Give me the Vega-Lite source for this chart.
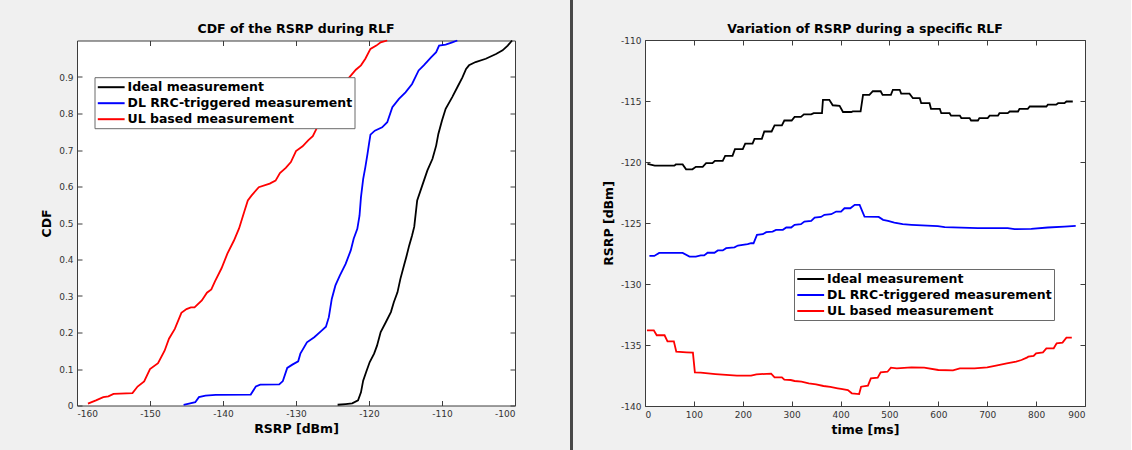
{
"$schema": "https://vega.github.io/schema/vega-lite/v6.json",
"background": "#f0f0f0",
"padding": {"left": 40, "top": 0, "right": 45, "bottom": 0},
"config": {
  "font": "DejaVu Sans",
  "view": {"stroke": "#3c3c3c", "strokeWidth": 1, "fill": "white"},
  "axis": {"grid": true, "gridColor": "#dfdfdf", "domain": false, "tickColor": "#3c3c3c", "tickSize": -5, "labelFont": "DejaVu Sans", "labelFontSize": 9, "labelColor": "#333333", "labelPadding": 9, "titleFont": "DejaVu Sans", "titleFontSize": 12.5, "titleFontWeight": "bold", "titleColor": "black", "minExtent": 0},
  "title": {"font": "DejaVu Sans", "fontSize": 12.5, "fontWeight": "bold", "color": "black", "offset": 1, "anchor": "middle"},
  "legend": {"orient": "none", "title": null, "symbolType": "M-1,0H3", "symbolSize": 180, "symbolStrokeWidth": 2, "labelFont": "DejaVu Sans", "labelFontWeight": "bold", "labelFontSize": 12.5, "labelColor": "black", "labelLimit": 0, "fillColor": "white", "strokeColor": "#6a6a6a", "padding": 2, "rowPadding": 1, "labelOffset": 15}
},
"resolve": {"scale": {"color": "independent"}, "legend": {"color": "independent"}},
"spacing": 53,
"center": true,
"hconcat": [
{
  "width": 438, "height": 365,
  "title": "CDF of the RSRP during RLF",
  "data": {"values": [
    {"series":"UL based measurement","rsrp":-158.5,"cdf":0.005},
    {"series":"UL based measurement","rsrp":-157.4,"cdf":0.014},
    {"series":"UL based measurement","rsrp":-156.4,"cdf":0.023},
    {"series":"UL based measurement","rsrp":-155.7,"cdf":0.025},
    {"series":"UL based measurement","rsrp":-155.0,"cdf":0.032},
    {"series":"UL based measurement","rsrp":-152.4,"cdf":0.034},
    {"series":"UL based measurement","rsrp":-151.7,"cdf":0.052},
    {"series":"UL based measurement","rsrp":-150.8,"cdf":0.066},
    {"series":"UL based measurement","rsrp":-150.0,"cdf":0.1},
    {"series":"UL based measurement","rsrp":-148.9,"cdf":0.116},
    {"series":"UL based measurement","rsrp":-148.0,"cdf":0.15},
    {"series":"UL based measurement","rsrp":-147.4,"cdf":0.183},
    {"series":"UL based measurement","rsrp":-146.6,"cdf":0.21},
    {"series":"UL based measurement","rsrp":-145.7,"cdf":0.254},
    {"series":"UL based measurement","rsrp":-145.0,"cdf":0.264},
    {"series":"UL based measurement","rsrp":-144.4,"cdf":0.269},
    {"series":"UL based measurement","rsrp":-143.9,"cdf":0.269},
    {"series":"UL based measurement","rsrp":-142.9,"cdf":0.288},
    {"series":"UL based measurement","rsrp":-142.2,"cdf":0.309},
    {"series":"UL based measurement","rsrp":-141.6,"cdf":0.318},
    {"series":"UL based measurement","rsrp":-141.1,"cdf":0.34},
    {"series":"UL based measurement","rsrp":-140.2,"cdf":0.376},
    {"series":"UL based measurement","rsrp":-139.4,"cdf":0.416},
    {"series":"UL based measurement","rsrp":-138.5,"cdf":0.452},
    {"series":"UL based measurement","rsrp":-137.8,"cdf":0.485},
    {"series":"UL based measurement","rsrp":-137.1,"cdf":0.53},
    {"series":"UL based measurement","rsrp":-136.6,"cdf":0.562},
    {"series":"UL based measurement","rsrp":-136.1,"cdf":0.575},
    {"series":"UL based measurement","rsrp":-135.1,"cdf":0.598},
    {"series":"UL based measurement","rsrp":-133.6,"cdf":0.608},
    {"series":"UL based measurement","rsrp":-132.8,"cdf":0.616},
    {"series":"UL based measurement","rsrp":-132.2,"cdf":0.637},
    {"series":"UL based measurement","rsrp":-131.4,"cdf":0.651},
    {"series":"UL based measurement","rsrp":-130.7,"cdf":0.667},
    {"series":"UL based measurement","rsrp":-130.0,"cdf":0.697},
    {"series":"UL based measurement","rsrp":-129.1,"cdf":0.71},
    {"series":"UL based measurement","rsrp":-128.3,"cdf":0.727},
    {"series":"UL based measurement","rsrp":-127.7,"cdf":0.738},
    {"series":"UL based measurement","rsrp":-127.1,"cdf":0.762},
    {"series":"UL based measurement","rsrp":-126.3,"cdf":0.79},
    {"series":"UL based measurement","rsrp":-125.5,"cdf":0.82},
    {"series":"UL based measurement","rsrp":-124.6,"cdf":0.85},
    {"series":"UL based measurement","rsrp":-123.7,"cdf":0.876},
    {"series":"UL based measurement","rsrp":-122.7,"cdf":0.899},
    {"series":"UL based measurement","rsrp":-121.8,"cdf":0.92},
    {"series":"UL based measurement","rsrp":-121.1,"cdf":0.932},
    {"series":"UL based measurement","rsrp":-120.5,"cdf":0.95},
    {"series":"UL based measurement","rsrp":-119.8,"cdf":0.977},
    {"series":"UL based measurement","rsrp":-119.0,"cdf":0.986},
    {"series":"UL based measurement","rsrp":-118.4,"cdf":0.995},
    {"series":"UL based measurement","rsrp":-117.5,"cdf":1.0},
    {"series":"DL RRC-triggered measurement","rsrp":-145.4,"cdf":0.002},
    {"series":"DL RRC-triggered measurement","rsrp":-144.5,"cdf":0.006},
    {"series":"DL RRC-triggered measurement","rsrp":-143.8,"cdf":0.009},
    {"series":"DL RRC-triggered measurement","rsrp":-143.3,"cdf":0.023},
    {"series":"DL RRC-triggered measurement","rsrp":-142.4,"cdf":0.027},
    {"series":"DL RRC-triggered measurement","rsrp":-141.0,"cdf":0.029},
    {"series":"DL RRC-triggered measurement","rsrp":-136.2,"cdf":0.03},
    {"series":"DL RRC-triggered measurement","rsrp":-135.5,"cdf":0.052},
    {"series":"DL RRC-triggered measurement","rsrp":-134.9,"cdf":0.057},
    {"series":"DL RRC-triggered measurement","rsrp":-132.3,"cdf":0.058},
    {"series":"DL RRC-triggered measurement","rsrp":-131.8,"cdf":0.067},
    {"series":"DL RRC-triggered measurement","rsrp":-131.2,"cdf":0.103},
    {"series":"DL RRC-triggered measurement","rsrp":-130.5,"cdf":0.112},
    {"series":"DL RRC-triggered measurement","rsrp":-129.7,"cdf":0.121},
    {"series":"DL RRC-triggered measurement","rsrp":-129.4,"cdf":0.142},
    {"series":"DL RRC-triggered measurement","rsrp":-128.5,"cdf":0.173},
    {"series":"DL RRC-triggered measurement","rsrp":-127.5,"cdf":0.187},
    {"series":"DL RRC-triggered measurement","rsrp":-126.6,"cdf":0.203},
    {"series":"DL RRC-triggered measurement","rsrp":-125.9,"cdf":0.216},
    {"series":"DL RRC-triggered measurement","rsrp":-125.5,"cdf":0.242},
    {"series":"DL RRC-triggered measurement","rsrp":-125.1,"cdf":0.292},
    {"series":"DL RRC-triggered measurement","rsrp":-124.6,"cdf":0.329},
    {"series":"DL RRC-triggered measurement","rsrp":-124.0,"cdf":0.356},
    {"series":"DL RRC-triggered measurement","rsrp":-123.2,"cdf":0.388},
    {"series":"DL RRC-triggered measurement","rsrp":-122.5,"cdf":0.425},
    {"series":"DL RRC-triggered measurement","rsrp":-122.1,"cdf":0.457},
    {"series":"DL RRC-triggered measurement","rsrp":-121.6,"cdf":0.484},
    {"series":"DL RRC-triggered measurement","rsrp":-121.3,"cdf":0.52},
    {"series":"DL RRC-triggered measurement","rsrp":-121.1,"cdf":0.571},
    {"series":"DL RRC-triggered measurement","rsrp":-120.8,"cdf":0.62},
    {"series":"DL RRC-triggered measurement","rsrp":-120.5,"cdf":0.653},
    {"series":"DL RRC-triggered measurement","rsrp":-120.2,"cdf":0.69},
    {"series":"DL RRC-triggered measurement","rsrp":-120.0,"cdf":0.717},
    {"series":"DL RRC-triggered measurement","rsrp":-119.8,"cdf":0.742},
    {"series":"DL RRC-triggered measurement","rsrp":-119.2,"cdf":0.753},
    {"series":"DL RRC-triggered measurement","rsrp":-118.2,"cdf":0.762},
    {"series":"DL RRC-triggered measurement","rsrp":-117.5,"cdf":0.776},
    {"series":"DL RRC-triggered measurement","rsrp":-116.8,"cdf":0.817},
    {"series":"DL RRC-triggered measurement","rsrp":-115.9,"cdf":0.84},
    {"series":"DL RRC-triggered measurement","rsrp":-115.0,"cdf":0.858},
    {"series":"DL RRC-triggered measurement","rsrp":-114.1,"cdf":0.881},
    {"series":"DL RRC-triggered measurement","rsrp":-113.2,"cdf":0.918},
    {"series":"DL RRC-triggered measurement","rsrp":-112.5,"cdf":0.932},
    {"series":"DL RRC-triggered measurement","rsrp":-111.5,"cdf":0.954},
    {"series":"DL RRC-triggered measurement","rsrp":-110.8,"cdf":0.968},
    {"series":"DL RRC-triggered measurement","rsrp":-110.4,"cdf":0.986},
    {"series":"DL RRC-triggered measurement","rsrp":-109.5,"cdf":0.989},
    {"series":"DL RRC-triggered measurement","rsrp":-108.6,"cdf":0.995},
    {"series":"DL RRC-triggered measurement","rsrp":-107.9,"cdf":1.0},
    {"series":"Ideal measurement","rsrp":-124.3,"cdf":0.002},
    {"series":"Ideal measurement","rsrp":-123.2,"cdf":0.004},
    {"series":"Ideal measurement","rsrp":-122.3,"cdf":0.006},
    {"series":"Ideal measurement","rsrp":-121.5,"cdf":0.014},
    {"series":"Ideal measurement","rsrp":-121.1,"cdf":0.036},
    {"series":"Ideal measurement","rsrp":-120.8,"cdf":0.068},
    {"series":"Ideal measurement","rsrp":-120.4,"cdf":0.091},
    {"series":"Ideal measurement","rsrp":-119.9,"cdf":0.119},
    {"series":"Ideal measurement","rsrp":-119.3,"cdf":0.142},
    {"series":"Ideal measurement","rsrp":-118.9,"cdf":0.164},
    {"series":"Ideal measurement","rsrp":-118.4,"cdf":0.201},
    {"series":"Ideal measurement","rsrp":-117.7,"cdf":0.228},
    {"series":"Ideal measurement","rsrp":-117.0,"cdf":0.256},
    {"series":"Ideal measurement","rsrp":-116.6,"cdf":0.283},
    {"series":"Ideal measurement","rsrp":-116.1,"cdf":0.31},
    {"series":"Ideal measurement","rsrp":-115.7,"cdf":0.347},
    {"series":"Ideal measurement","rsrp":-115.2,"cdf":0.384},
    {"series":"Ideal measurement","rsrp":-114.9,"cdf":0.406},
    {"series":"Ideal measurement","rsrp":-114.5,"cdf":0.438},
    {"series":"Ideal measurement","rsrp":-114.1,"cdf":0.466},
    {"series":"Ideal measurement","rsrp":-113.8,"cdf":0.49},
    {"series":"Ideal measurement","rsrp":-113.4,"cdf":0.562},
    {"series":"Ideal measurement","rsrp":-112.7,"cdf":0.603},
    {"series":"Ideal measurement","rsrp":-112.0,"cdf":0.644},
    {"series":"Ideal measurement","rsrp":-111.3,"cdf":0.676},
    {"series":"Ideal measurement","rsrp":-110.8,"cdf":0.712},
    {"series":"Ideal measurement","rsrp":-110.5,"cdf":0.744},
    {"series":"Ideal measurement","rsrp":-110.0,"cdf":0.781},
    {"series":"Ideal measurement","rsrp":-109.5,"cdf":0.813},
    {"series":"Ideal measurement","rsrp":-108.6,"cdf":0.845},
    {"series":"Ideal measurement","rsrp":-107.9,"cdf":0.872},
    {"series":"Ideal measurement","rsrp":-107.2,"cdf":0.899},
    {"series":"Ideal measurement","rsrp":-106.7,"cdf":0.922},
    {"series":"Ideal measurement","rsrp":-106.3,"cdf":0.932},
    {"series":"Ideal measurement","rsrp":-105.4,"cdf":0.941},
    {"series":"Ideal measurement","rsrp":-104.0,"cdf":0.95},
    {"series":"Ideal measurement","rsrp":-102.6,"cdf":0.963},
    {"series":"Ideal measurement","rsrp":-101.7,"cdf":0.973},
    {"series":"Ideal measurement","rsrp":-101.0,"cdf":0.986},
    {"series":"Ideal measurement","rsrp":-100.4,"cdf":1.0}
  ]},
  "layer": [
    {"mark": {"type": "line", "opacity": 0},
     "encoding": {
       "x": {"field": "rsrp", "type": "quantitative", "axis": {"orient": "top", "labels": false, "title": null, "grid": false, "values": [-160,-150,-140,-130,-120,-110,-100]}},
       "y": {"field": "cdf", "type": "quantitative", "axis": {"orient": "right", "labels": false, "title": null, "grid": false, "values": [0,0.1,0.2,0.3,0.4,0.5,0.6,0.7,0.8,0.9]}},
       "detail": {"field": "series"}
     }},
    {"mark": {"type": "line", "strokeWidth": 1.8},
     "encoding": {
       "x": {"field": "rsrp", "type": "quantitative", "scale": {"domain": [-160,-100], "nice": false, "zero": false}, "axis": {"orient": "bottom", "title": "RSRP [dBm]", "values": [-160,-150,-140,-130,-120,-110,-100], "labelExpr": "datum.value + ''", "titlePadding": 4}},
       "y": {"field": "cdf", "type": "quantitative", "scale": {"domain": [0,1], "nice": false, "zero": false}, "axis": {"orient": "left", "title": "CDF", "values": [0,0.1,0.2,0.3,0.4,0.5,0.6,0.7,0.8,0.9], "format": ".1~f", "titlePadding": 5}},
       "color": {"field": "series", "type": "nominal", "scale": {"domain": ["Ideal measurement","DL RRC-triggered measurement","UL based measurement"], "range": ["#000000","#0000ff","#ff0000"]}, "legend": {"legendX": 17.5, "legendY": 36.7}}
     }}
  ],
  "resolve": {"axis": {"x": "independent", "y": "independent"}}
},
{
  "spacing": 29,
  "center": true,
  "resolve": {"scale": {"color": "independent"}, "legend": {"color": "independent"}},
  "hconcat": [
    {"width": 3, "height": 476, "view": {"fill": "#484848", "stroke": null},
     "data": {"values": []}, "mark": "rule", "encoding": {}},
    {
      "width": 440, "height": 366,
      "title": "Variation of RSRP during a specific RLF",
      "data": {"values": [
        {"series":"Ideal measurement","t":5,"rsrp":-120.15},
        {"series":"Ideal measurement","t":20,"rsrp":-120.3},
        {"series":"Ideal measurement","t":60,"rsrp":-120.3},
        {"series":"Ideal measurement","t":63,"rsrp":-120.2},
        {"series":"Ideal measurement","t":77,"rsrp":-120.2},
        {"series":"Ideal measurement","t":84,"rsrp":-120.6},
        {"series":"Ideal measurement","t":97,"rsrp":-120.6},
        {"series":"Ideal measurement","t":104,"rsrp":-120.4},
        {"series":"Ideal measurement","t":118,"rsrp":-120.4},
        {"series":"Ideal measurement","t":125,"rsrp":-120.1},
        {"series":"Ideal measurement","t":138,"rsrp":-120.1},
        {"series":"Ideal measurement","t":143,"rsrp":-119.9},
        {"series":"Ideal measurement","t":159,"rsrp":-119.9},
        {"series":"Ideal measurement","t":164,"rsrp":-119.5},
        {"series":"Ideal measurement","t":179,"rsrp":-119.5},
        {"series":"Ideal measurement","t":184,"rsrp":-118.95},
        {"series":"Ideal measurement","t":200,"rsrp":-118.95},
        {"series":"Ideal measurement","t":205,"rsrp":-118.5},
        {"series":"Ideal measurement","t":220,"rsrp":-118.5},
        {"series":"Ideal measurement","t":224,"rsrp":-118.1},
        {"series":"Ideal measurement","t":239,"rsrp":-118.1},
        {"series":"Ideal measurement","t":244,"rsrp":-117.5},
        {"series":"Ideal measurement","t":259,"rsrp":-117.5},
        {"series":"Ideal measurement","t":265,"rsrp":-117.0},
        {"series":"Ideal measurement","t":280,"rsrp":-117.0},
        {"series":"Ideal measurement","t":285,"rsrp":-116.6},
        {"series":"Ideal measurement","t":300,"rsrp":-116.6},
        {"series":"Ideal measurement","t":306,"rsrp":-116.3},
        {"series":"Ideal measurement","t":319,"rsrp":-116.3},
        {"series":"Ideal measurement","t":325,"rsrp":-116.1},
        {"series":"Ideal measurement","t":340,"rsrp":-116.1},
        {"series":"Ideal measurement","t":345,"rsrp":-116.0},
        {"series":"Ideal measurement","t":362,"rsrp":-116.0},
        {"series":"Ideal measurement","t":364,"rsrp":-114.9},
        {"series":"Ideal measurement","t":377,"rsrp":-114.9},
        {"series":"Ideal measurement","t":384,"rsrp":-115.35},
        {"series":"Ideal measurement","t":398,"rsrp":-115.4},
        {"series":"Ideal measurement","t":405,"rsrp":-115.9},
        {"series":"Ideal measurement","t":422,"rsrp":-115.9},
        {"series":"Ideal measurement","t":425,"rsrp":-115.85},
        {"series":"Ideal measurement","t":441,"rsrp":-115.85},
        {"series":"Ideal measurement","t":446,"rsrp":-114.5},
        {"series":"Ideal measurement","t":459,"rsrp":-114.5},
        {"series":"Ideal measurement","t":466,"rsrp":-114.2},
        {"series":"Ideal measurement","t":482,"rsrp":-114.2},
        {"series":"Ideal measurement","t":486,"rsrp":-114.5},
        {"series":"Ideal measurement","t":503,"rsrp":-114.5},
        {"series":"Ideal measurement","t":507,"rsrp":-114.08},
        {"series":"Ideal measurement","t":521,"rsrp":-114.08},
        {"series":"Ideal measurement","t":524,"rsrp":-114.4},
        {"series":"Ideal measurement","t":541,"rsrp":-114.4},
        {"series":"Ideal measurement","t":548,"rsrp":-114.77},
        {"series":"Ideal measurement","t":562,"rsrp":-114.77},
        {"series":"Ideal measurement","t":565,"rsrp":-115.18},
        {"series":"Ideal measurement","t":582,"rsrp":-115.18},
        {"series":"Ideal measurement","t":585,"rsrp":-115.64},
        {"series":"Ideal measurement","t":603,"rsrp":-115.64},
        {"series":"Ideal measurement","t":606,"rsrp":-116.0},
        {"series":"Ideal measurement","t":623,"rsrp":-116.0},
        {"series":"Ideal measurement","t":626,"rsrp":-116.2},
        {"series":"Ideal measurement","t":644,"rsrp":-116.2},
        {"series":"Ideal measurement","t":647,"rsrp":-116.4},
        {"series":"Ideal measurement","t":664,"rsrp":-116.4},
        {"series":"Ideal measurement","t":667,"rsrp":-116.6},
        {"series":"Ideal measurement","t":681,"rsrp":-116.6},
        {"series":"Ideal measurement","t":684,"rsrp":-116.4},
        {"series":"Ideal measurement","t":701,"rsrp":-116.4},
        {"series":"Ideal measurement","t":705,"rsrp":-116.2},
        {"series":"Ideal measurement","t":722,"rsrp":-116.2},
        {"series":"Ideal measurement","t":725,"rsrp":-116.0},
        {"series":"Ideal measurement","t":742,"rsrp":-116.0},
        {"series":"Ideal measurement","t":746,"rsrp":-115.86},
        {"series":"Ideal measurement","t":763,"rsrp":-115.86},
        {"series":"Ideal measurement","t":766,"rsrp":-115.64},
        {"series":"Ideal measurement","t":783,"rsrp":-115.64},
        {"series":"Ideal measurement","t":787,"rsrp":-115.45},
        {"series":"Ideal measurement","t":821,"rsrp":-115.45},
        {"series":"Ideal measurement","t":824,"rsrp":-115.3},
        {"series":"Ideal measurement","t":841,"rsrp":-115.3},
        {"series":"Ideal measurement","t":845,"rsrp":-115.18},
        {"series":"Ideal measurement","t":858,"rsrp":-115.18},
        {"series":"Ideal measurement","t":862,"rsrp":-115.04},
        {"series":"Ideal measurement","t":875,"rsrp":-115.04},
        {"series":"DL RRC-triggered measurement","t":9,"rsrp":-127.7},
        {"series":"DL RRC-triggered measurement","t":19,"rsrp":-127.7},
        {"series":"DL RRC-triggered measurement","t":29,"rsrp":-127.45},
        {"series":"DL RRC-triggered measurement","t":77,"rsrp":-127.45},
        {"series":"DL RRC-triggered measurement","t":91,"rsrp":-127.75},
        {"series":"DL RRC-triggered measurement","t":104,"rsrp":-127.75},
        {"series":"DL RRC-triggered measurement","t":114,"rsrp":-127.66},
        {"series":"DL RRC-triggered measurement","t":121,"rsrp":-127.66},
        {"series":"DL RRC-triggered measurement","t":128,"rsrp":-127.44},
        {"series":"DL RRC-triggered measurement","t":142,"rsrp":-127.44},
        {"series":"DL RRC-triggered measurement","t":149,"rsrp":-127.25},
        {"series":"DL RRC-triggered measurement","t":159,"rsrp":-127.25},
        {"series":"DL RRC-triggered measurement","t":166,"rsrp":-127.06},
        {"series":"DL RRC-triggered measurement","t":183,"rsrp":-127.0},
        {"series":"DL RRC-triggered measurement","t":190,"rsrp":-126.85},
        {"series":"DL RRC-triggered measurement","t":210,"rsrp":-126.74},
        {"series":"DL RRC-triggered measurement","t":217,"rsrp":-126.66},
        {"series":"DL RRC-triggered measurement","t":222,"rsrp":-126.66},
        {"series":"DL RRC-triggered measurement","t":229,"rsrp":-125.97},
        {"series":"DL RRC-triggered measurement","t":241,"rsrp":-125.92},
        {"series":"DL RRC-triggered measurement","t":248,"rsrp":-125.75},
        {"series":"DL RRC-triggered measurement","t":261,"rsrp":-125.7},
        {"series":"DL RRC-triggered measurement","t":268,"rsrp":-125.56},
        {"series":"DL RRC-triggered measurement","t":282,"rsrp":-125.56},
        {"series":"DL RRC-triggered measurement","t":289,"rsrp":-125.37},
        {"series":"DL RRC-triggered measurement","t":299,"rsrp":-125.37},
        {"series":"DL RRC-triggered measurement","t":306,"rsrp":-125.15},
        {"series":"DL RRC-triggered measurement","t":319,"rsrp":-125.1},
        {"series":"DL RRC-triggered measurement","t":326,"rsrp":-124.88},
        {"series":"DL RRC-triggered measurement","t":340,"rsrp":-124.82},
        {"series":"DL RRC-triggered measurement","t":347,"rsrp":-124.55},
        {"series":"DL RRC-triggered measurement","t":360,"rsrp":-124.5},
        {"series":"DL RRC-triggered measurement","t":367,"rsrp":-124.33},
        {"series":"DL RRC-triggered measurement","t":381,"rsrp":-124.28},
        {"series":"DL RRC-triggered measurement","t":391,"rsrp":-124.06},
        {"series":"DL RRC-triggered measurement","t":401,"rsrp":-124.06},
        {"series":"DL RRC-triggered measurement","t":408,"rsrp":-123.79},
        {"series":"DL RRC-triggered measurement","t":420,"rsrp":-123.79},
        {"series":"DL RRC-triggered measurement","t":429,"rsrp":-123.51},
        {"series":"DL RRC-triggered measurement","t":439,"rsrp":-123.51},
        {"series":"DL RRC-triggered measurement","t":449,"rsrp":-124.47},
        {"series":"DL RRC-triggered measurement","t":478,"rsrp":-124.5},
        {"series":"DL RRC-triggered measurement","t":487,"rsrp":-124.74},
        {"series":"DL RRC-triggered measurement","t":497,"rsrp":-124.82},
        {"series":"DL RRC-triggered measurement","t":510,"rsrp":-124.96},
        {"series":"DL RRC-triggered measurement","t":527,"rsrp":-125.1},
        {"series":"DL RRC-triggered measurement","t":545,"rsrp":-125.15},
        {"series":"DL RRC-triggered measurement","t":599,"rsrp":-125.26},
        {"series":"DL RRC-triggered measurement","t":613,"rsrp":-125.34},
        {"series":"DL RRC-triggered measurement","t":681,"rsrp":-125.42},
        {"series":"DL RRC-triggered measurement","t":742,"rsrp":-125.42},
        {"series":"DL RRC-triggered measurement","t":756,"rsrp":-125.5},
        {"series":"DL RRC-triggered measurement","t":790,"rsrp":-125.48},
        {"series":"DL RRC-triggered measurement","t":824,"rsrp":-125.37},
        {"series":"DL RRC-triggered measurement","t":858,"rsrp":-125.29},
        {"series":"DL RRC-triggered measurement","t":881,"rsrp":-125.23},
        {"series":"UL based measurement","t":4,"rsrp":-133.8},
        {"series":"UL based measurement","t":18,"rsrp":-133.8},
        {"series":"UL based measurement","t":24,"rsrp":-134.2},
        {"series":"UL based measurement","t":40,"rsrp":-134.2},
        {"series":"UL based measurement","t":46,"rsrp":-134.7},
        {"series":"UL based measurement","t":59,"rsrp":-134.7},
        {"series":"UL based measurement","t":64,"rsrp":-135.55},
        {"series":"UL based measurement","t":85,"rsrp":-135.6},
        {"series":"UL based measurement","t":98,"rsrp":-135.63},
        {"series":"UL based measurement","t":102,"rsrp":-137.24},
        {"series":"UL based measurement","t":114,"rsrp":-137.27},
        {"series":"UL based measurement","t":144,"rsrp":-137.38},
        {"series":"UL based measurement","t":188,"rsrp":-137.51},
        {"series":"UL based measurement","t":217,"rsrp":-137.51},
        {"series":"UL based measurement","t":228,"rsrp":-137.4},
        {"series":"UL based measurement","t":258,"rsrp":-137.35},
        {"series":"UL based measurement","t":265,"rsrp":-137.65},
        {"series":"UL based measurement","t":280,"rsrp":-137.65},
        {"series":"UL based measurement","t":285,"rsrp":-137.84},
        {"series":"UL based measurement","t":298,"rsrp":-137.87},
        {"series":"UL based measurement","t":306,"rsrp":-137.95},
        {"series":"UL based measurement","t":320,"rsrp":-138.0},
        {"series":"UL based measurement","t":335,"rsrp":-138.14},
        {"series":"UL based measurement","t":350,"rsrp":-138.22},
        {"series":"UL based measurement","t":365,"rsrp":-138.36},
        {"series":"UL based measurement","t":379,"rsrp":-138.44},
        {"series":"UL based measurement","t":394,"rsrp":-138.55},
        {"series":"UL based measurement","t":401,"rsrp":-138.6},
        {"series":"UL based measurement","t":415,"rsrp":-138.69},
        {"series":"UL based measurement","t":423,"rsrp":-138.96},
        {"series":"UL based measurement","t":438,"rsrp":-139.02},
        {"series":"UL based measurement","t":442,"rsrp":-138.42},
        {"series":"UL based measurement","t":456,"rsrp":-138.33},
        {"series":"UL based measurement","t":462,"rsrp":-137.73},
        {"series":"UL based measurement","t":476,"rsrp":-137.68},
        {"series":"UL based measurement","t":482,"rsrp":-137.24},
        {"series":"UL based measurement","t":496,"rsrp":-137.19},
        {"series":"UL based measurement","t":503,"rsrp":-136.86},
        {"series":"UL based measurement","t":515,"rsrp":-136.91},
        {"series":"UL based measurement","t":545,"rsrp":-136.83},
        {"series":"UL based measurement","t":571,"rsrp":-136.86},
        {"series":"UL based measurement","t":600,"rsrp":-137.05},
        {"series":"UL based measurement","t":630,"rsrp":-137.08},
        {"series":"UL based measurement","t":644,"rsrp":-136.91},
        {"series":"UL based measurement","t":674,"rsrp":-136.91},
        {"series":"UL based measurement","t":700,"rsrp":-136.83},
        {"series":"UL based measurement","t":718,"rsrp":-136.69},
        {"series":"UL based measurement","t":740,"rsrp":-136.5},
        {"series":"UL based measurement","t":759,"rsrp":-136.37},
        {"series":"UL based measurement","t":770,"rsrp":-136.23},
        {"series":"UL based measurement","t":781,"rsrp":-136.04},
        {"series":"UL based measurement","t":784,"rsrp":-135.96},
        {"series":"UL based measurement","t":795,"rsrp":-135.9},
        {"series":"UL based measurement","t":800,"rsrp":-135.68},
        {"series":"UL based measurement","t":814,"rsrp":-135.6},
        {"series":"UL based measurement","t":821,"rsrp":-135.27},
        {"series":"UL based measurement","t":836,"rsrp":-135.27},
        {"series":"UL based measurement","t":842,"rsrp":-134.86},
        {"series":"UL based measurement","t":854,"rsrp":-134.8},
        {"series":"UL based measurement","t":862,"rsrp":-134.4},
        {"series":"UL based measurement","t":873,"rsrp":-134.4}
      ]},
      "layer": [
        {"mark": {"type": "line", "opacity": 0},
         "encoding": {
           "x": {"field": "t", "type": "quantitative", "axis": {"orient": "top", "labels": false, "title": null, "grid": false, "values": [0,100,200,300,400,500,600,700,800,900]}},
           "y": {"field": "rsrp", "type": "quantitative", "axis": {"orient": "right", "labels": false, "title": null, "grid": false, "values": [-140,-135,-130,-125,-120,-115,-110]}},
           "detail": {"field": "series"}
         }},
        {"mark": {"type": "line", "strokeWidth": 1.8},
         "encoding": {
           "x": {"field": "t", "type": "quantitative", "scale": {"domain": [0,900], "nice": false, "zero": false}, "axis": {"orient": "bottom", "title": "time [ms]", "values": [0,100,200,300,400,500,600,700,800,900], "titlePadding": 4}},
           "y": {"field": "rsrp", "type": "quantitative", "scale": {"domain": [-140,-110], "nice": false, "zero": false}, "axis": {"orient": "left", "title": "RSRP [dBm]", "values": [-140,-135,-130,-125,-120,-115,-110], "labelExpr": "datum.value + ''", "titlePadding": 5}},
           "color": {"field": "series", "type": "nominal", "scale": {"domain": ["Ideal measurement","DL RRC-triggered measurement","UL based measurement"], "range": ["#000000","#0000ff","#ff0000"]}, "legend": {"legendX": 149, "legendY": 229}}
         }}
      ],
      "resolve": {"axis": {"x": "independent", "y": "independent"}}
    }
  ]
}
]
}
